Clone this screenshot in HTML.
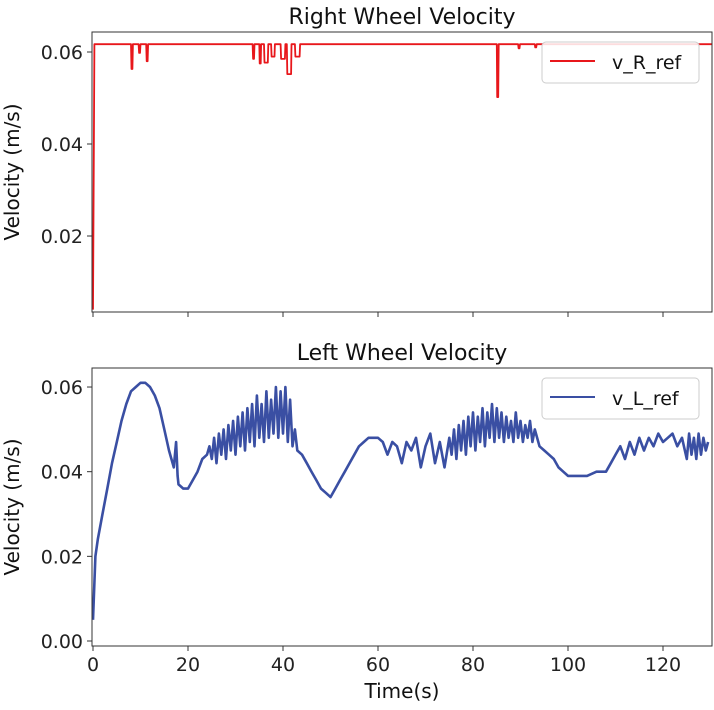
<!DOCTYPE html>
<html><head><meta charset="utf-8"><style>
body{margin:0;background:#fff}
svg{display:block;font-family:"DejaVu Sans","Liberation Sans",sans-serif}
</style></head><body>
<svg id="c" width="714" height="710"></svg>
<script>
const xTicks=[0,20,40,60,80,100,120];
const topYTicks=[0.02,0.04,0.06];
const botYTicks=[0.00,0.02,0.04,0.06];
const rT=[0,0.3,8.0,8.1,8.3,8.4,9.6,9.7,9.9,10.0,11.2,11.3,11.5,11.6,33.6,33.7,33.9,34.0,35.0,35.1,35.3,35.4,36.0,36.1,36.8,36.9,37.5,37.6,38.2,38.3,39.5,39.6,40.4,40.5,40.8,40.9,41.7,41.8,42.5,42.6,43.5,43.6,85.0,85.1,85.3,85.4,89.5,89.6,89.8,89.9,93.0,93.1,93.3,93.4,130.5];
const rV=[0.004,0.0617,0.0617,0.0563,0.0563,0.0617,0.0617,0.0598,0.0598,0.0617,0.0617,0.058,0.058,0.0617,0.0617,0.0585,0.0585,0.0617,0.0617,0.0575,0.0575,0.0617,0.0617,0.0577,0.0577,0.0617,0.0617,0.059,0.059,0.0617,0.0617,0.0585,0.0585,0.0617,0.0617,0.0552,0.0552,0.0617,0.0617,0.059,0.059,0.0617,0.0617,0.0502,0.0502,0.0617,0.0617,0.0608,0.0608,0.0617,0.0617,0.061,0.061,0.0617,0.0617];
const lT=[0,0.5,1,2,3,4,5,6,7,8,9,10,11,12,13,14,15,16,17,17.5,17.8,18,19,20,21,22,23,
24,24.5,25,25.5,26,26.5,27,27.5,28,28.5,29,29.5,30,30.5,31,31.5,32,32.5,33,33.5,34,34.5,35,35.5,36,36.5,37,37.5,38,38.5,39,39.5,40,40.5,41,41.5,42,42.5,43,
44,45,46,47,48,49,50,51,52,53,54,55,56,57,58,60,61,62,63,64,65,66,67,68,69,70,71,72,73,74,
75,75.5,76,76.5,77,77.5,78,78.5,79,79.5,80,80.5,81,81.5,82,82.5,83,83.5,84,84.5,85,85.5,86,86.5,87,87.5,88,88.5,89,89.5,90,90.5,91,91.5,92,92.5,93,
94,95,96,97,98,99,100,102,104,106,108,109,110,111,112,113,114,115,116,117,118,119,120,121,122,123,124,125,125.5,126,126.5,127,127.5,128,128.5,129,129.5,130];
const lV=[0.005,0.02,0.024,0.03,0.036,0.042,0.047,0.052,0.056,0.059,0.06,0.061,0.061,0.06,0.058,0.055,0.05,0.045,0.041,0.047,0.039,0.037,0.036,0.036,0.038,0.04,0.043,
0.044,0.046,0.043,0.048,0.042,0.049,0.044,0.05,0.043,0.051,0.045,0.052,0.044,0.053,0.046,0.054,0.045,0.055,0.047,0.056,0.046,0.058,0.048,0.056,0.047,0.059,0.048,0.057,0.049,0.06,0.048,0.059,0.049,0.06,0.047,0.057,0.046,0.05,0.045,
0.044,0.042,0.04,0.038,0.036,0.035,0.034,0.036,0.038,0.04,0.042,0.044,0.046,0.047,0.048,0.048,0.047,0.044,0.047,0.046,0.042,0.047,0.045,0.048,0.041,0.046,0.049,0.042,0.047,0.041,
0.048,0.044,0.05,0.043,0.051,0.045,0.052,0.044,0.053,0.046,0.054,0.045,0.053,0.047,0.055,0.046,0.054,0.048,0.056,0.047,0.055,0.048,0.054,0.047,0.053,0.048,0.052,0.047,0.054,0.048,0.052,0.047,0.051,0.048,0.052,0.047,0.05,
0.046,0.045,0.044,0.043,0.041,0.040,0.039,0.039,0.039,0.04,0.04,0.042,0.044,0.046,0.043,0.047,0.044,0.048,0.045,0.048,0.046,0.049,0.047,0.048,0.049,0.046,0.048,0.043,0.049,0.044,0.048,0.043,0.049,0.044,0.048,0.045,0.047];
const svg=document.getElementById('c');
const NS='http://www.w3.org/2000/svg';
function mk(tag,attrs,txt){const e=document.createElementNS(NS,tag);for(const k in attrs)e.setAttribute(k,attrs[k]);if(txt!==undefined)e.textContent=txt;svg.appendChild(e);return e;}
const X0=92,X1=712;
function xs(t){return 93+t*4.75;}
function yTop(v){return 52+(0.06-v)*4600;}
function yBot(v){return 641-v*4233;}
function panel(y0,y1,ys,yt,fmt,T,V,col,title,leg,pref,showX){
  let d='';for(let i=0;i<T.length;i++){d+=(i?'L':'M')+xs(Math.min(T[i],130.3)).toFixed(1)+','+ys(V[i]).toFixed(1);}
  const cp=mk('clipPath',{id:pref+'clip'});const r=document.createElementNS(NS,'rect');r.setAttribute('x',X0);r.setAttribute('y',y0);r.setAttribute('width',X1-X0);r.setAttribute('height',y1-y0);cp.appendChild(r);
  const p=mk('path',{d:d,fill:'none',stroke:col,'stroke-width':pref==='l'?2.6:1.8,'stroke-linejoin':'round','clip-path':'url(#'+pref+'clip)'});
  
  
  const fr=mk('rect',{x:X0,y:y0,width:X1-X0,height:y1-y0,fill:'none',stroke:'#333','stroke-width':1});
  
  yt.forEach(v=>{const y=ys(v);mk('line',{x1:X0-5,x2:X0,y1:y,y2:y,stroke:'#333'});
    const t=mk('text',{x:X0-9,y:y+7,'text-anchor':'end','font-size':19,fill:'#222'},fmt(v));
    });
  xTicks.forEach(v=>{const x=xs(v);mk('line',{x1:x,x2:x,y1:y1,y2:y1+5,stroke:'#333'});
    if(showX){const t=mk('text',{x:x,y:y1+25,'text-anchor':'middle','font-size':19,fill:'#222'},String(v));
    }});
  const tt=mk('text',{x:402,y:y0-8,'text-anchor':'middle','font-size':22,fill:'#111'},title);
  
  const yl=mk('text',{x:19,y:(y0+y1)/2,'text-anchor':'middle','font-size':20,fill:'#111',transform:'rotate(-90 19 '+(y0+y1)/2+')'},'Velocity (m/s)');
  
  const lb=mk('rect',{x:542,y:y0+10,width:157,height:41,rx:4,fill:'#fff','fill-opacity':0.85,stroke:'#ccc'});
  
  mk('line',{x1:550,x2:595,y1:y0+29,y2:y0+29,stroke:col,'stroke-width':2});
  const lt=mk('text',{x:612,y:y0+37,'font-size':19,fill:'#111'},leg);
  
}
panel(32,312,yTop,topYTicks,v=>v.toFixed(2),rT,rV,'#e8171b','Right Wheel Velocity','v_R_ref','r',false);
panel(368,646,yBot,botYTicks,v=>v.toFixed(2),lT,lV,'#3a4fa3','Left Wheel Velocity','v_L_ref','l',true);
const xl=mk('text',{x:402,y:698,'text-anchor':'middle','font-size':20,fill:'#111'},'Time(s)');

</script>
</body></html>
